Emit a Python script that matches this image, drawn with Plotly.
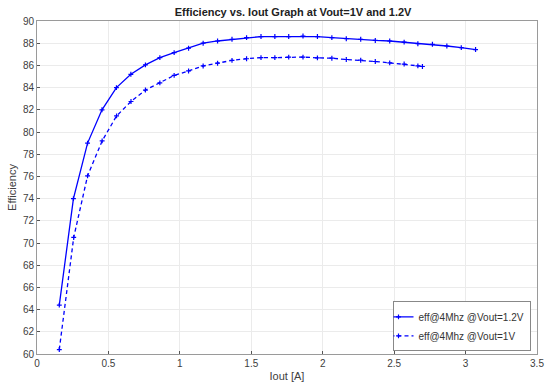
import plotly.graph_objects as go

iout_12 = [0.156, 0.255, 0.354, 0.455, 0.556, 0.657, 0.759, 0.860, 0.960, 1.061,
           1.163, 1.264, 1.365, 1.467, 1.568, 1.665, 1.762, 1.862, 1.963, 2.064,
           2.165, 2.266, 2.368, 2.469, 2.570, 2.666, 2.768, 2.869, 2.970, 3.070]
eff_12 = [64.4, 74.0, 79.0, 82.0, 84.0, 85.2, 86.05, 86.7, 87.15, 87.55,
          88.0, 88.2, 88.35, 88.5, 88.6, 88.6, 88.6, 88.65, 88.6, 88.5,
          88.4, 88.35, 88.25, 88.2, 88.1, 87.95, 87.9, 87.75, 87.6, 87.43]

iout_10 = [0.156, 0.257, 0.354, 0.456, 0.557, 0.658, 0.759, 0.860, 0.960, 1.061,
           1.163, 1.264, 1.365, 1.467, 1.568, 1.665, 1.762, 1.862, 1.963, 2.064,
           2.165, 2.266, 2.368, 2.469, 2.570, 2.666, 2.698]
eff_10 = [60.4, 70.5, 76.05, 79.2, 81.45, 82.75, 83.78, 84.43, 85.1, 85.5,
          85.95, 86.2, 86.45, 86.6, 86.7, 86.7, 86.75, 86.75, 86.68, 86.65,
          86.53, 86.47, 86.35, 86.23, 86.12, 85.96, 85.9]

x_ticks = [0, 0.5, 1, 1.5, 2, 2.5, 3, 3.5]
y_ticks = list(range(60, 91, 2))

names = ["eff@4Mhz @Vout=1.2V", "eff@4Mhz @Vout=1V"]

fig = go.Figure()
marker = dict(symbol="cross-thin", size=3.5, line=dict(width=1.2, color="#0000ff"), color="#0000ff")
fig.add_trace(go.Scatter(x=iout_12, y=eff_12, mode="lines+markers", name=names[0],
                         line=dict(color="#0000ff", width=1.3), marker=marker))
fig.add_trace(go.Scatter(x=iout_10, y=eff_10, mode="lines+markers", name=names[1],
                         line=dict(color="#0000ff", width=1.3, dash="4px,3px"), marker=marker))

axis_common = dict(showgrid=True, gridcolor="#ebebeb", gridwidth=1, zeroline=False,
                   showline=True, linecolor="#9a9a9a", linewidth=1, mirror=True,
                   ticks="inside", ticklen=3, tickcolor="#555555",
                   tickfont=dict(family="Arial, Liberation Sans", size=10, color="#404040"))

fig.update_layout(
    width=553, height=390,
    margin=dict(l=37, r=9, t=21, b=35),
    paper_bgcolor="white", plot_bgcolor="white",
    title=dict(text="<b>Efficiency vs. Iout Graph at Vout=1V and 1.2V</b>",
               x=0.53, xanchor="center", y=0.968, yanchor="middle",
               font=dict(family="Arial, Liberation Sans", size=11, color="#222222")),
    xaxis=dict(range=[0, 3.5], tickvals=x_ticks, ticktext=[str(t) for t in x_ticks],
               title=dict(text="Iout [A]", standoff=4,
                          font=dict(family="Arial, Liberation Sans", size=11, color="#404040")),
               **axis_common),
    yaxis=dict(range=[60, 90], tickvals=y_ticks, ticktext=[str(t) for t in y_ticks],
               title=dict(text="Efficiency", standoff=4,
                          font=dict(family="Arial, Liberation Sans", size=11, color="#404040")),
               **axis_common),
    legend=dict(x=0.987, y=0.008, xanchor="right", yanchor="bottom",
                bgcolor="white", bordercolor="#888888", borderwidth=1,
                font=dict(family="Arial, Liberation Sans", size=10, color="#333333"),
                tracegroupgap=0, itemwidth=30, indentation=-15),
    showlegend=True,
)

fig.write_html("out.html")
